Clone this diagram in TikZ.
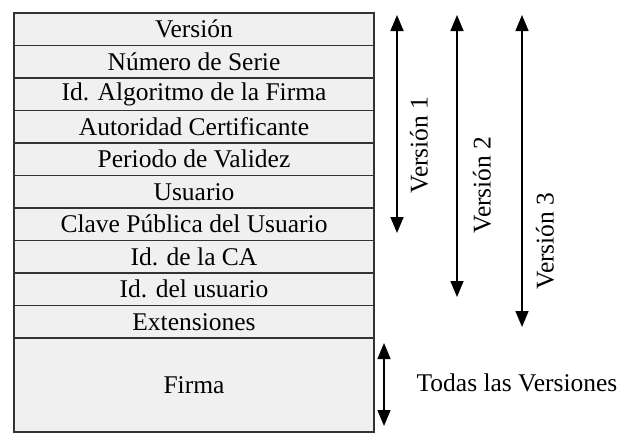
\documentclass[tikz,border=0pt]{standalone}
\usepackage{fontspec}
\setmainfont{Liberation Serif}
\usetikzlibrary{arrows.meta}

\begin{document}
\begin{tikzpicture}[x=1pt,y=-1pt,
    campo/.style={draw=black!80,line width=1.3pt,fill=black!6,minimum width=360pt,minimum height=32.5pt,inner sep=0pt,font=\fontsize{25.5}{30}\selectfont},
    flecha/.style={line width=1.5pt,{Triangle[width=13pt,length=16pt]}-{Triangle[width=13pt,length=16pt]}},
    rotulo/.style={font=\fontsize{25.5}{30}\selectfont,inner sep=0pt}]
    \useasboundingbox (0,0) rectangle (636,434);
    \foreach \t [count=\i] in {Versión,Número de Serie,Id. Algoritmo de la Firma,Autoridad Certificante,Periodo de Validez,Usuario,Clave Pública del Usuario,Id. de la CA,Id. del usuario,Extensiones}
        \node[campo] (r\i) at (194,{13+32.5*(\i-0.5)}) {\t};
    \node[campo,minimum height=94pt] (firma) at (194,385) {Firma};
    \coordinate (v1a) at (397,15);
    \coordinate (v1b) at (397,233);
    \coordinate (v2a) at (457,15);
    \coordinate (v2b) at (457,297);
    \coordinate (v3a) at (522,15);
    \coordinate (v3b) at (522,327);
    \coordinate (tva) at (384,343);
    \coordinate (tvb) at (384,426);
    \draw[flecha] (v1a) -- (v1b);
    \draw[flecha] (v2a) -- (v2b);
    \draw[flecha] (v3a) -- (v3b);
    \draw[flecha] (tva) -- (tvb);
    \node[rotulo,rotate=90] (ver1) at (419,145) {Versión 1};
    \node[rotulo,rotate=90] (ver2) at (482,185) {Versión 2};
    \node[rotulo,rotate=90] (ver3) at (545,241) {Versión 3};
    \node[rotulo] (todas) at (517,383) {Todas las Versiones};
\end{tikzpicture}
\end{document}
